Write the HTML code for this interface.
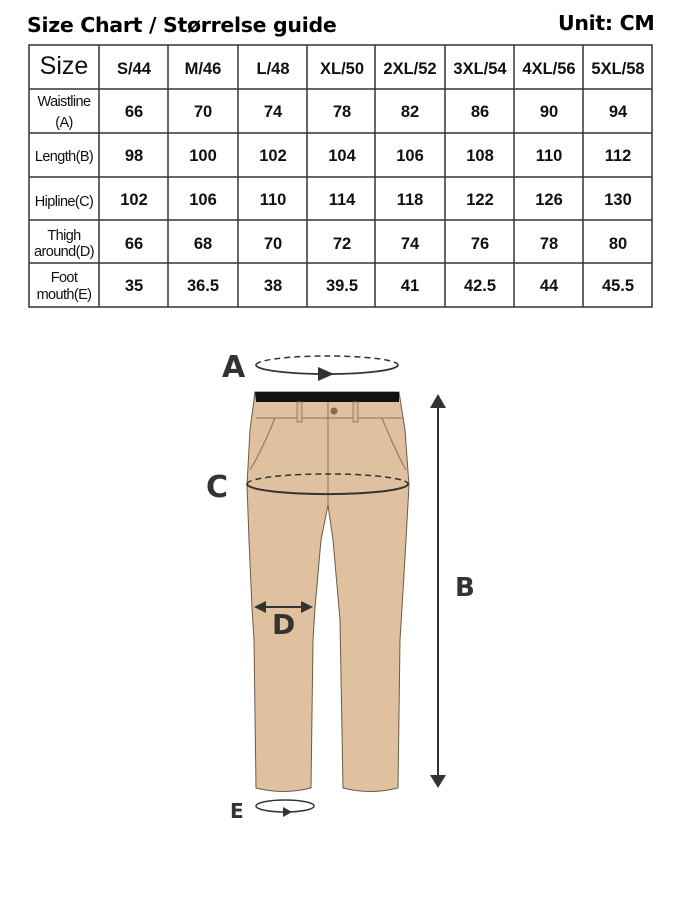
<!DOCTYPE html>
<html><head><meta charset="utf-8"><style>
body{margin:0;background:#fff;width:674px;height:898px;overflow:hidden}
svg{display:block}
.h{font-family:"Liberation Sans",Arial,sans-serif;font-weight:bold;font-size:16.5px;fill:#111}
.l{font-family:"Liberation Sans",Arial,sans-serif;font-size:14.5px;fill:#111;letter-spacing:-0.6px}
.t{font-family:"DejaVu Sans","Liberation Sans",sans-serif;font-weight:bold;font-size:20.5px;fill:#000;letter-spacing:-0.3px}
.L{font-family:"DejaVu Sans","Liberation Sans",sans-serif;font-weight:bold;fill:#333}
</style></head><body>
<svg width="674" height="898" viewBox="0 0 674 898" xmlns="http://www.w3.org/2000/svg">
<text class="t" x="27" y="32">Size Chart / Størrelse guide</text>
<text class="t" x="558" y="30">Unit: CM</text>
<g stroke="#333" stroke-width="1.5" fill="none">
<rect x="29" y="45" width="623" height="262"/>
<line x1="99" y1="45" x2="99" y2="307"/><line x1="168" y1="45" x2="168" y2="307"/>
<line x1="238" y1="45" x2="238" y2="307"/><line x1="307" y1="45" x2="307" y2="307"/>
<line x1="375" y1="45" x2="375" y2="307"/><line x1="445" y1="45" x2="445" y2="307"/>
<line x1="514" y1="45" x2="514" y2="307"/><line x1="583" y1="45" x2="583" y2="307"/>
<line x1="29" y1="89" x2="652" y2="89"/><line x1="29" y1="133" x2="652" y2="133"/>
<line x1="29" y1="177" x2="652" y2="177"/><line x1="29" y1="220" x2="652" y2="220"/>
<line x1="29" y1="263" x2="652" y2="263"/>
</g>
<text x="64" y="74" text-anchor="middle" font-family="Liberation Sans,Arial,sans-serif" font-size="25" fill="#111">Size</text>
<g class="h" text-anchor="middle">
<text x="134" y="74">S/44</text><text x="203" y="74">M/46</text><text x="273" y="74">L/48</text><text x="342" y="74">XL/50</text><text x="410" y="74">2XL/52</text><text x="480" y="74">3XL/54</text><text x="549" y="74">4XL/56</text><text x="618" y="74">5XL/58</text>
<text x="134" y="117">66</text><text x="203" y="117">70</text><text x="273" y="117">74</text><text x="342" y="117">78</text><text x="410" y="117">82</text><text x="480" y="117">86</text><text x="549" y="117">90</text><text x="618" y="117">94</text>
<text x="134" y="161">98</text><text x="203" y="161">100</text><text x="273" y="161">102</text><text x="342" y="161">104</text><text x="410" y="161">106</text><text x="480" y="161">108</text><text x="549" y="161">110</text><text x="618" y="161">112</text>
<text x="134" y="205">102</text><text x="203" y="205">106</text><text x="273" y="205">110</text><text x="342" y="205">114</text><text x="410" y="205">118</text><text x="480" y="205">122</text><text x="549" y="205">126</text><text x="618" y="205">130</text>
<text x="134" y="249">66</text><text x="203" y="249">68</text><text x="273" y="249">70</text><text x="342" y="249">72</text><text x="410" y="249">74</text><text x="480" y="249">76</text><text x="549" y="249">78</text><text x="618" y="249">80</text>
<text x="134" y="291">35</text><text x="203" y="291">36.5</text><text x="273" y="291">38</text><text x="342" y="291">39.5</text><text x="410" y="291">41</text><text x="480" y="291">42.5</text><text x="549" y="291">44</text><text x="618" y="291">45.5</text>
</g>
<g class="l" text-anchor="middle">
<text x="64" y="106">Waistline</text><text x="64" y="127">(A)</text>
<text x="64" y="161">Length(B)</text>
<text x="64" y="206">Hipline(C)</text>
<text x="64" y="240">Thigh</text><text x="64" y="256">around(D)</text>
<text x="64" y="282">Foot</text><text x="64" y="299">mouth(E)</text>
</g>
<!-- pants -->
<path d="M255 392 L399 392 L405 430 L409 485 L406 540 L402 608 L400 640 L398 788 Q370 795 343 788 L340 620 L333 540 L328 505 L321 540 L315 608 L313 640 L311 788 Q283 795 256 788 L254 640 L252 608 L249 540 L247 485 L250 430 Z" fill="#dfc09f" stroke="#6b5a48" stroke-width="1"/>
<path d="M255 392 L399 392 L399 402 L256 402 Z" fill="#111"/>
<line x1="256" y1="418" x2="403" y2="418" stroke="#8a735c" stroke-width="1"/>
<line x1="328" y1="402" x2="328" y2="505" stroke="#8a735c" stroke-width="1"/>
<rect x="297" y="402" width="5" height="20" fill="#d8b896" stroke="#8a735c" stroke-width="0.8"/>
<rect x="353" y="402" width="5" height="20" fill="#d8b896" stroke="#8a735c" stroke-width="0.8"/>
<circle cx="334" cy="411" r="3.5" fill="#8a6a45"/>
<path d="M275 418 Q262 450 250 470" stroke="#8a735c" fill="none"/>
<path d="M382 418 Q395 450 406 470" stroke="#8a735c" fill="none"/>
<!-- A -->
<text class="L" x="222" y="377" font-size="30">A</text>
<path d="M256 365 A71 9 0 0 1 398 365" fill="none" stroke="#333" stroke-width="1.5" stroke-dasharray="6 4"/>
<path d="M256 365 A71 9 0 0 0 398 365" fill="none" stroke="#333" stroke-width="1.8"/>
<path d="M318 367 L334 374 L318 381 Z" fill="#333"/>
<!-- C -->
<text class="L" x="206" y="497" font-size="30">C</text>
<path d="M247 484 A80 10 0 0 1 408 484" fill="none" stroke="#333" stroke-width="1.5" stroke-dasharray="6 4"/>
<path d="M247 484 A80 10 0 0 0 408 484" fill="none" stroke="#333" stroke-width="2"/>
<!-- B -->
<line x1="438" y1="405" x2="438" y2="778" stroke="#333" stroke-width="2"/>
<path d="M430 408 L438 394 L446 408 Z" fill="#333"/>
<path d="M430 775 L438 788 L446 775 Z" fill="#333"/>
<text class="L" x="455" y="596" font-size="26">B</text>
<!-- D -->
<line x1="262" y1="607" x2="306" y2="607" stroke="#333" stroke-width="2"/>
<path d="M254 607 L266 601 L266 613 Z" fill="#333"/>
<path d="M313 607 L301 601 L301 613 Z" fill="#333"/>
<text class="L" x="272" y="634" font-size="28">D</text>
<!-- E -->
<text class="L" x="230" y="818" font-size="20" fill="#000">E</text>
<ellipse cx="285" cy="806" rx="29" ry="6" fill="none" stroke="#333" stroke-width="1.5"/>
<path d="M283 807 L292 812 L283 817 Z" fill="#333"/>
</svg>
</body></html>
